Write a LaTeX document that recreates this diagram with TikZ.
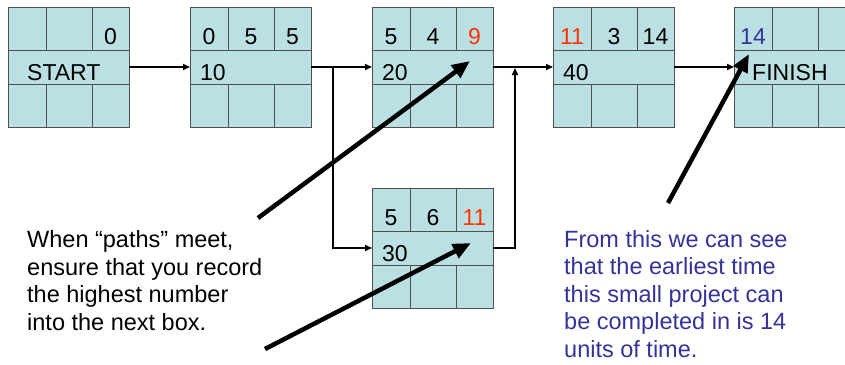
\documentclass[tikz,border=0pt]{standalone}
\usepackage{fontspec}
\setmainfont{Liberation Sans}
\usetikzlibrary{arrows.meta}

\definecolor{boxfill}{RGB}{187,224,227}
\definecolor{gridgray}{RGB}{80,80,80}
\definecolor{hired}{RGB}{255,51,0}
\definecolor{noteblue}{RGB}{51,51,153}

\tikzset{
  actbox/.style={draw=gridgray, line width=0.8pt, fill=boxfill,
    minimum width=121pt, minimum height=120pt, inner sep=0pt, outer sep=0pt},
  cellline/.style={draw=gridgray, line width=0.8pt},
  boxtext/.style={inner sep=0pt, font=\fontsize{23}{27}\selectfont},
  conn/.style={line width=1.6pt, -{Triangle[length=7pt,width=6pt]}},
  pointer/.style={line width=4.5pt, -{Triangle[length=18pt,width=15pt]}},
  note/.style={inner sep=0pt, align=left, anchor=base west,
    font=\fontsize{23.5}{27.5}\selectfont}
}

% one activity box: name, centre, three top numbers, label, label offset
\newcommand{\actbox}[7]{%
  \node[actbox] (#1) at (#2) {};
  \draw[cellline]
    ([yshift=-43pt]#1.north west) -- ([yshift=-43pt]#1.north east)
    ([yshift=-77pt]#1.north west) -- ([yshift=-77pt]#1.north east)
    ([xshift=38pt]#1.north west) -- ([xshift=38pt,yshift=-43pt]#1.north west)
    ([xshift=84pt]#1.north west) -- ([xshift=84pt,yshift=-43pt]#1.north west)
    ([xshift=38pt,yshift=-77pt]#1.north west) -- ([xshift=38pt]#1.south west)
    ([xshift=84pt,yshift=-77pt]#1.north west) -- ([xshift=84pt]#1.south west);
  \node[boxtext, anchor=base] (#1-es) at ([xshift=19pt,yshift=-37pt]#1.north west) {#3};
  \node[boxtext, anchor=base] (#1-du) at ([xshift=61pt,yshift=-37pt]#1.north west) {#4};
  \node[boxtext, anchor=base] (#1-ef) at ([xshift=102.5pt,yshift=-37pt]#1.north west) {#5};
  \node[boxtext, anchor=base west] (#1-lb) at ([xshift=#7,yshift=-73pt]#1.north west) {#6};
}

\begin{document}
\begin{tikzpicture}[x=1pt, y=1pt]
  \useasboundingbox (0,0) rectangle (845,-364);

  % activity boxes
  \actbox{start}{68.5,-67}{}{}{0}{START}{19pt}
  \actbox{n10}{250.5,-67}{0}{5}{5}{10}{10pt}
  \actbox{n20}{432.5,-67}{5}{4}{\color{hired}9}{20}{10pt}
  \actbox{n30}{432.5,-248}{5}{6}{\color{hired}11}{30}{10pt}
  \actbox{n40}{613.5,-67}{\color{hired}11}{3}{14}{40}{10pt}
  \actbox{finish}{794.5,-67}{\color{noteblue}14}{}{}{FINISH}{18pt}

  % connectors
  \coordinate (split) at (333,-67);
  \coordinate (merge) at (515,-67);
  \draw[conn] (start) -- (n10);
  \draw[conn] (n10.east) -- (n20.west);
  \draw[conn] (split) |- (n30.west);
  \draw[conn] (n20.east) -- (n40.west);
  \draw[conn] (n30.east) -| ([yshift=-1pt]merge);
  \draw[conn] (n40) -- (finish);

  % pointers
  \coordinate (p1s) at (258,-218);
  \coordinate (p1e) at (470,-61);
  \coordinate (p2s) at (265,-349);
  \coordinate (p2e) at (471,-243);
  \coordinate (p3s) at (668,-203);
  \coordinate (p3e) at (749,-54);
  \draw[pointer] (p1s) -- (p1e);
  \draw[pointer] (p2s) -- (p2e);
  \draw[pointer] (p3s) -- (p3e);

  % notes (placed by the baseline of their last line)
  \node[note] (meet) at (27,-330) {When “paths” meet,\\ensure that you record\\the highest number\\into the next box.};
  \node[note, text=noteblue] (result) at (564,-357) {From this we can see\\that the earliest time\\this small project can\\be completed in is 14\\units of time.};
\end{tikzpicture}
\end{document}
